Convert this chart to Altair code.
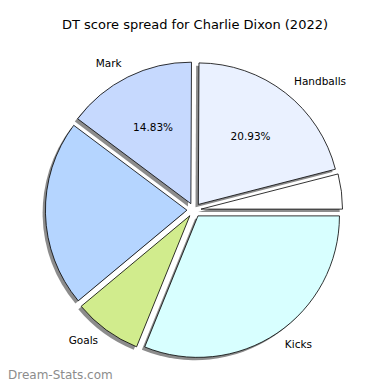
import altair as alt
import pandas as pd

categories = ["Hitouts", "Handballs", "Mark", "Tackles", "Goals", "Kicks"]
shares = [4.0, 20.93, 14.83, 21.3, 7.8, 31.14]
slice_labels = ["", "Handballs", "Mark", "", "Goals", "Kicks"]
pct_labels = ["", "20.93%", "14.83%", "", "", ""]
colors = ["#FFFFFF", "#EAF1FF", "#C6D9FE", "#B5D5FF", "#D1EC8D", "#D8FFFF"]

df = pd.DataFrame({
    "cat": categories,
    "share": shares,
    "label": slice_labels,
    "pct": pct_labels,
    "order": list(range(len(categories))),
})

EXPLODE = 0.05
R = 141.5
W = 374
H = 374

base = (
    alt.Chart(df)
    .transform_window(cum="sum(share)", sort=[alt.SortField("order")], frame=[None, 0])
    .transform_joinaggregate(total="sum(share)")
    .transform_calculate(
        a0="2*PI*(datum.cum - datum.share)/datum.total",
        a1="2*PI*datum.cum/datum.total",
    )
    .transform_calculate(
        mid="(datum.a0 + datum.a1)/2",
        th="PI/2 - datum.a1",
        th2="PI/2 - datum.a0",
    )
    .transform_calculate(
        ex=f"{EXPLODE}*cos(datum.mid)",
        ey=f"{EXPLODE}*sin(datum.mid)",
        sx=f"{EXPLODE}*cos(datum.mid) - 0.02",
        sy=f"{EXPLODE}*sin(datum.mid) - 0.02",
        lx=f"({EXPLODE} + 1.1)*cos(datum.mid)",
        ly=f"({EXPLODE} + 1.1)*sin(datum.mid)",
        px=f"({EXPLODE} + 0.6)*cos(datum.mid)",
        py=f"({EXPLODE} + 0.6)*sin(datum.mid)",
    )
)

xs = alt.Scale(domain=[-1.3145, 1.3286], nice=False, zero=False)
ys = alt.Scale(domain=[-1.2155, 1.4276], nice=False, zero=False)

shadow = base.mark_arc(radius=R, color="#808080", opacity=0.9).encode(
    x=alt.X("sx:Q", scale=xs, axis=None),
    y=alt.Y("sy:Q", scale=ys, axis=None),
    theta=alt.Theta("th:Q", scale=None),
    theta2="th2:Q",
)

slices = base.mark_arc(radius=R, stroke="black", strokeWidth=0.8).encode(
    x=alt.X("ex:Q", scale=xs, axis=None),
    y=alt.Y("ey:Q", scale=ys, axis=None),
    theta=alt.Theta("th:Q", scale=None),
    theta2="th2:Q",
    color=alt.Color("cat:N", scale=alt.Scale(domain=categories, range=colors), legend=None),
)

labels_right = base.transform_filter("datum.label != '' && datum.lx < 0").mark_text(
    align="right", baseline="middle", fontSize=10.5, font="DejaVu Sans", color="black"
).encode(
    x=alt.X("lx:Q", scale=xs, axis=None),
    y=alt.Y("ly:Q", scale=ys, axis=None),
    text="label:N",
)

labels_left = base.transform_filter("datum.label != '' && datum.lx >= 0").mark_text(
    align="left", baseline="middle", fontSize=10.5, font="DejaVu Sans", color="black"
).encode(
    x=alt.X("lx:Q", scale=xs, axis=None),
    y=alt.Y("ly:Q", scale=ys, axis=None),
    text="label:N",
)

pcts = base.transform_filter("datum.pct != ''").mark_text(
    align="center", baseline="middle", fontSize=10.5, font="DejaVu Sans", color="black"
).encode(
    x=alt.X("px:Q", scale=xs, axis=None),
    y=alt.Y("py:Q", scale=ys, axis=None),
    text="pct:N",
)

watermark = alt.Chart(pd.DataFrame({"t": ["Dream-Stats.com"]})).mark_text(
    align="left", baseline="alphabetic", fontSize=12, font="DejaVu Sans", color="#8c8c8c"
).encode(x=alt.value(0), y=alt.value(371), text="t:N")

chart = (
    alt.layer(shadow, slices, labels_right, labels_left, pcts, watermark)
    .properties(
        width=W,
        height=H,
        padding=0,
        autosize="none",
        title=alt.TitleParams(
            text="DT score spread for Charlie Dixon (2022)",
            fontSize=13,
            font="DejaVu Sans",
            fontWeight="normal",
            color="black",
            anchor="middle",
            dy=28,
        ),
    )
    .configure_view(stroke=None)
)

chart.save("out.html", embed_options={"renderer": "svg", "actions": False})
